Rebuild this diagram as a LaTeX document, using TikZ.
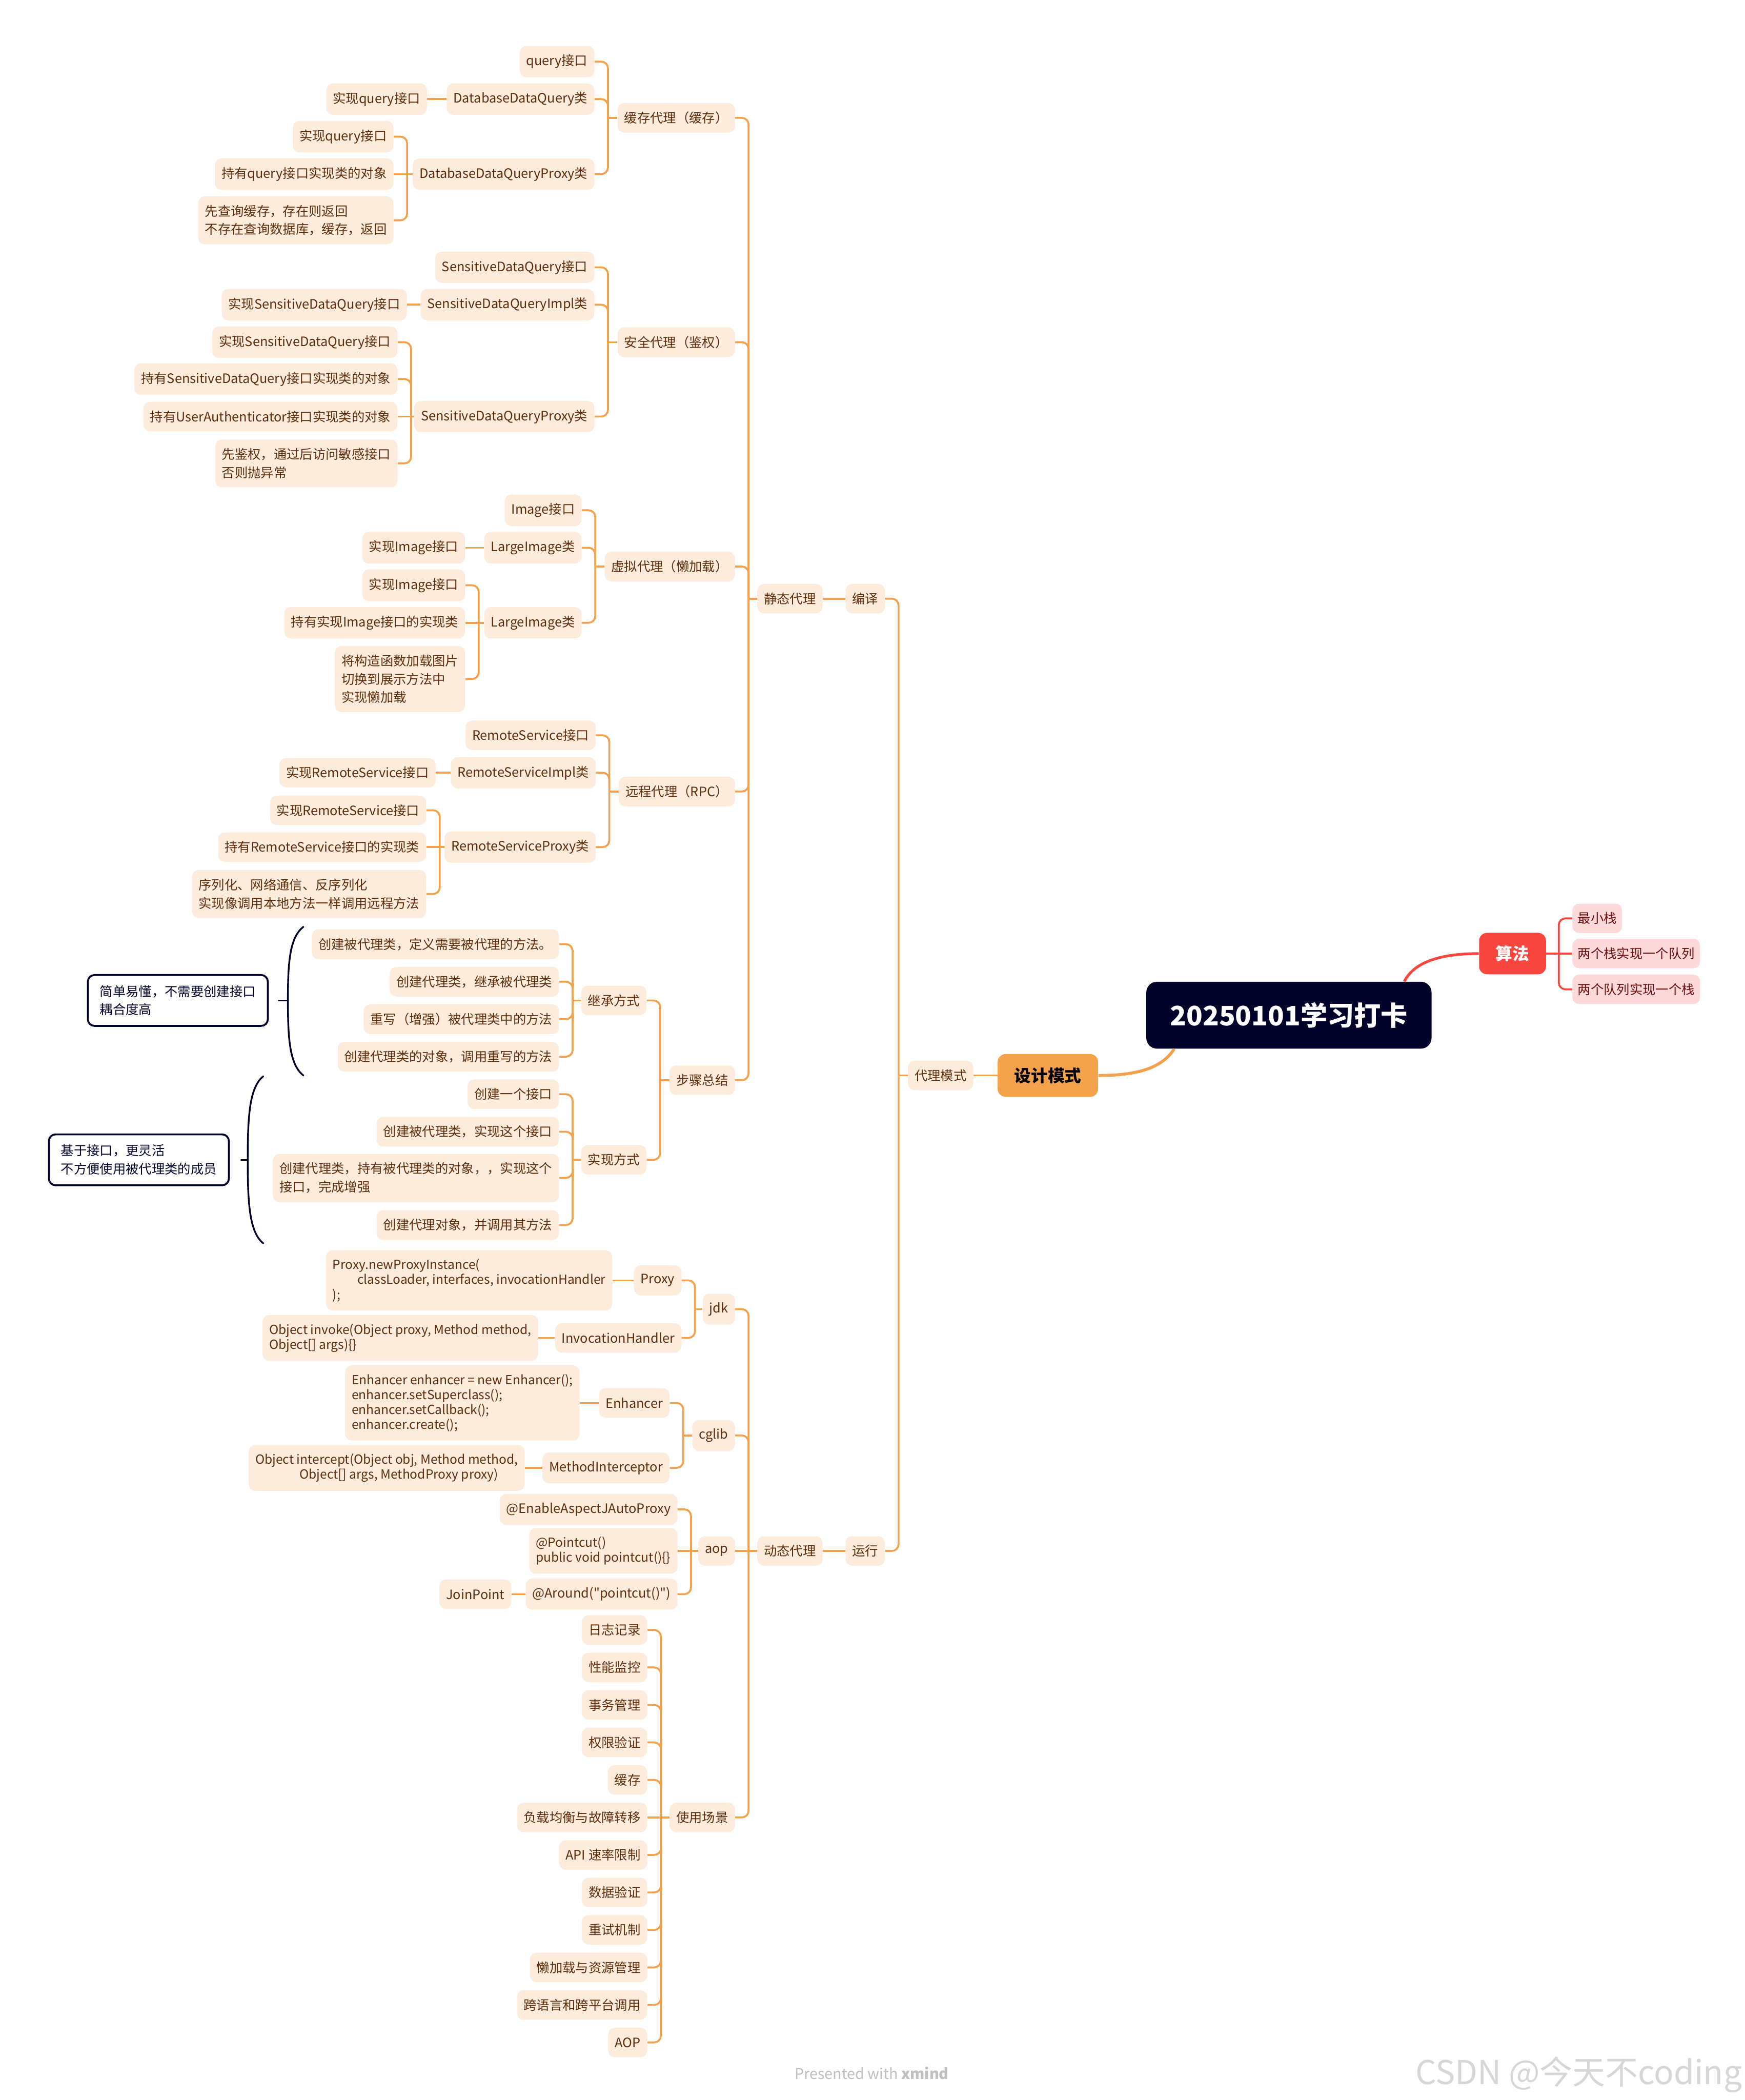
\documentclass[tikz,border=0pt]{standalone}
\usepackage{fontspec}
\setmainfont{Noto Sans CJK SC}[Ligatures=TeXOff]
\usetikzlibrary{calc}
\definecolor{lf}{HTML}{FDEBDC}
\definecolor{lt}{HTML}{5C2E0C}
\definecolor{ln}{HTML}{F5A14C}
\definecolor{navy}{HTML}{000229}
\definecolor{org}{HTML}{F5A24D}
\definecolor{redc}{HTML}{F9463F}
\definecolor{pinkf}{HTML}{FDD9D9}
\definecolor{pinkt}{HTML}{6B1010}
\tikzset{
  lv/.style={fill=lf, text=lt, rounded corners=5pt, inner xsep=5pt, inner ysep=6.5pt, minimum height=22pt, font=\fontsize{9.7}{13.7}\selectfont, align=left, anchor=east},
  code/.style={lv, font=\fontsize{9.4}{11.2}\selectfont},
  alg/.style={fill=pinkf, text=pinkt, rounded corners=5pt, inner xsep=4pt, inner ysep=6pt, minimum height=22pt, font=\fontsize{9.7}{13.7}\selectfont, anchor=west},
  sumbox/.style={draw=navy, line width=1.4pt, fill=white, text=navy, rounded corners=5pt, inner xsep=9pt, inner ysep=6pt, minimum height=38pt, font=\fontsize{9.7}{13.7}\selectfont, align=left, anchor=east},
  conn/.style={draw=ln, line width=1.4pt},
  rconn/.style={draw=redc, line width=1.4pt},
  bracel/.style={draw=navy, line width=1.3pt, line cap=round},
}
\newcommand\mmkid[2]{%
  \draw[conn] (#1.west) -- ($(#2.east |- #1.west)+(10,0)$);
  \draw[conn,rounded corners=5pt] ($(#2.east |- #1.west)+(10,0)$) |- (#2.east);}
\newcommand\mmone[2]{\draw[conn] (#1.west) -- (#2.east);}
\newcommand\mmrkid[2]{%
  \draw[rconn] (#1.east) -- ($(#2.west |- #1.east)+(-10,0)$);
  \draw[rconn,rounded corners=5pt] ($(#2.west |- #1.east)+(-10,0)$) |- (#2.west);}
\begin{document}
\begin{tikzpicture}[x=1pt,y=-1pt]
\fill[white] (0,0) rectangle (1303,1568);
\useasboundingbox (0,0) rectangle (1303,1568);

% ---------- root and main branches ----------
\node[fill=navy, text=white, rounded corners=8pt, minimum width=213pt, minimum height=50pt, font=\fontsize{20}{24}\selectfont\bfseries] (root) at (962.5,758) {20250101学习打卡};
\node[fill=org, text=black, rounded corners=6pt, minimum width=75pt, minimum height=32pt, font=\fontsize{12.5}{15}\selectfont\bfseries] (dm) at (782.5,803) {设计模式};
\node[fill=redc, text=white, rounded corners=6pt, minimum width=50pt, minimum height=31pt, font=\fontsize{12.5}{15}\selectfont\bfseries] (sf) at (1129.5,712) {算法};
\node[alg] (a1) at (1174,685.7) {最小栈};
\node[alg] (a2) at (1174,712) {两个栈实现一个队列};
\node[alg] (a3) at (1174,738.7) {两个队列实现一个栈};
\draw[rconn, line width=2pt] ([xshift=-20.5pt]root.north east) .. controls +(8,-16) and +(-25,0) .. (sf.west);
\draw[conn, line width=2.2pt] ([xshift=21pt]root.south west) .. controls +(-9,14) and +(30,0) .. (dm.east);
\mmrkid{sf}{a1}
\draw[rconn] (sf.east) -- (a2.west);
\mmrkid{sf}{a3}

% ---------- proxy pattern ----------
\node[lv] (dl) at (727,803) {代理模式};
\node[lv] (by) at (661,447) {编译};
\node[lv] (yx) at (661,1158) {运行};
\node[lv] (jt) at (614.5,447) {静态代理};
\node[lv] (dt) at (614.5,1158) {动态代理};
\draw[conn] (dl.east) -- (dm.west);
\mmkid{dl}{by}\mmkid{dl}{yx}
\mmone{by}{jt}\mmone{yx}{dt}

% ---------- static: cache ----------
\node[lv] (hc) at (549,88) {缓存代理（缓存）};
\node[lv] (hc1) at (444,46) {query接口};
\node[lv] (hc2) at (444,74) {DatabaseDataQuery类};
\node[lv] (hc2a) at (319,74) {实现query接口};
\node[lv] (hc3) at (444,130) {DatabaseDataQueryProxy类};
\node[lv] (hc3a) at (294,102) {实现query接口};
\node[lv] (hc3b) at (294,130) {持有query接口实现类的对象};
\node[lv] (hc3c) at (294,164.5) {先查询缓存，存在则返回\\不存在查询数据库，缓存，返回};
\mmkid{hc}{hc1}\mmkid{hc}{hc2}\mmkid{hc}{hc3}
\mmone{hc2}{hc2a}
\mmkid{hc3}{hc3a}\mmone{hc3}{hc3b}\mmkid{hc3}{hc3c}

% ---------- static: security ----------
\node[lv] (aq) at (549,255.5) {安全代理（鉴权）};
\node[lv] (aq1) at (444,199.6) {SensitiveDataQuery接口};
\node[lv] (aq2) at (444,227.5) {SensitiveDataQueryImpl类};
\node[lv] (aq2a) at (304,227.5) {实现SensitiveDataQuery接口};
\node[lv] (aq3) at (444,311) {SensitiveDataQueryProxy类};
\node[lv] (aq3a) at (297,255.5) {实现SensitiveDataQuery接口};
\node[lv] (aq3b) at (297,283) {持有SensitiveDataQuery接口实现类的对象};
\node[lv] (aq3c) at (297,311) {持有UserAuthenticator接口实现类的对象};
\node[lv] (aq3d) at (297,346) {先鉴权，通过后访问敏感接口\\否则抛异常};
\mmkid{aq}{aq1}\mmkid{aq}{aq2}\mmkid{aq}{aq3}
\mmone{aq2}{aq2a}
\mmkid{aq3}{aq3a}\mmkid{aq3}{aq3b}\mmone{aq3}{aq3c}\mmkid{aq3}{aq3d}

% ---------- static: virtual ----------
\node[lv] (xn) at (549,423) {虚拟代理（懒加载）};
\node[lv] (xn1) at (434.5,381) {Image接口};
\node[lv] (xn2) at (434.5,409) {LargeImage类};
\node[lv] (xn2a) at (347.5,409) {实现Image接口};
\node[lv] (xn3) at (434.5,465) {LargeImage类};
\node[lv] (xn3a) at (347.5,437) {实现Image接口};
\node[lv] (xn3b) at (347.5,465) {持有实现Image接口的实现类};
\node[lv] (xn3c) at (347.5,507) {将构造函数加载图片\\切换到展示方法中\\实现懒加载};
\mmkid{xn}{xn1}\mmkid{xn}{xn2}\mmkid{xn}{xn3}
\mmone{xn2}{xn2a}
\mmkid{xn3}{xn3a}\mmone{xn3}{xn3b}\mmkid{xn3}{xn3c}

% ---------- static: remote ----------
\node[lv] (yc) at (549,591) {远程代理（RPC）};
\node[lv] (yc1) at (445,549) {RemoteService接口};
\node[lv] (yc2) at (445,577) {RemoteServiceImpl类};
\node[lv] (yc2a) at (325.4,577) {实现RemoteService接口};
\node[lv] (yc3) at (445,632.5) {RemoteServiceProxy类};
\node[lv] (yc3a) at (318.4,605) {实现RemoteService接口};
\node[lv] (yc3b) at (318.4,632.5) {持有RemoteService接口的实现类};
\node[lv] (yc3c) at (318.4,667.5) {序列化、网络通信、反序列化\\实现像调用本地方法一样调用远程方法};
\mmkid{yc}{yc1}\mmkid{yc}{yc2}\mmkid{yc}{yc3}
\mmone{yc2}{yc2a}
\mmkid{yc3}{yc3a}\mmone{yc3}{yc3b}\mmkid{yc3}{yc3c}

% ---------- static: steps ----------
\node[lv] (bz) at (549,806.5) {步骤总结};
\node[lv] (bz1) at (483,747) {继承方式};
\node[lv] (bz2) at (483,866) {实现方式};
\node[lv] (bz1a) at (417.6,705) {创建被代理类，定义需要被代理的方法。};
\node[lv] (bz1b) at (417.6,733) {创建代理类，继承被代理类};
\node[lv] (bz1c) at (417.6,761) {重写（增强）被代理类中的方法};
\node[lv] (bz1d) at (417.6,789) {创建代理类的对象，调用重写的方法};
\node[lv] (bz2a) at (417.6,817) {创建一个接口};
\node[lv] (bz2b) at (417.6,845) {创建被代理类，实现这个接口};
\node[lv] (bz2c) at (417.6,879.5) {创建代理类，持有被代理类的对象，，实现这个\\接口，完成增强};
\node[lv] (bz2d) at (417.6,914.7) {创建代理对象，并调用其方法};
\mmkid{bz}{bz1}\mmkid{bz}{bz2}
\mmkid{bz1}{bz1a}\mmkid{bz1}{bz1b}\mmkid{bz1}{bz1c}\mmkid{bz1}{bz1d}
\mmkid{bz2}{bz2a}\mmkid{bz2}{bz2b}\mmkid{bz2}{bz2c}\mmkid{bz2}{bz2d}

\mmkid{jt}{hc}\mmkid{jt}{aq}\mmkid{jt}{xn}\mmkid{jt}{yc}\mmkid{jt}{bz}

% ---------- summaries ----------
\node[sumbox] (s1) at (200.7,747) {简单易懂，不需要创建接口\\耦合度高};
\node[sumbox] (s2) at (171.6,866) {基于接口，更灵活\\不方便使用被代理类的成员};
\draw[bracel] (226.6,692) .. controls (216,700) and (215,720) .. (215,747) .. controls (215,774) and (216,795) .. (226.6,803);
\draw[bracel] (215,747) -- ([xshift=7.6pt]s1.east);
\draw[bracel] (196.6,803.6) .. controls (186,812) and (185,835) .. (185,866) .. controls (185,897) and (186,920) .. (196.6,928.3);
\draw[bracel] (185,866) -- ([xshift=8.4pt]s2.east);

% ---------- dynamic ----------
\node[lv] (jdk) at (549,977.5) {jdk};
\node[lv] (cg) at (549,1071.8) {cglib};
\node[lv] (aop) at (549,1158) {aop};
\node[lv] (syc) at (549,1357) {使用场景};
\node[lv] (jdk1) at (509,956) {Proxy};
\node[code] (jdk1a) at (457.4,956) {Proxy.newProxyInstance(\\\hspace*{18.5pt}classLoader, interfaces, invocationHandler\\);};
\node[lv] (jdk2) at (509,999) {InvocationHandler};
\node[code] (jdk2a) at (402,999) {Object invoke(Object proxy, Method method,\\Object[] args)\{\}};
\node[lv] (cg1) at (500.2,1047.5) {Enhancer};
\node[code] (cg1a) at (433,1047.5) {Enhancer enhancer = new Enhancer();\\enhancer.setSuperclass();\\enhancer.setCallback();\\enhancer.create();};
\node[lv] (cg2) at (500.2,1096) {MethodInterceptor};
\node[code] (cg2a) at (392,1096) {Object intercept(Object obj, Method method,\\\hspace*{33pt}Object[] args, MethodProxy proxy)};
\node[lv] (aop1) at (506,1127) {@EnableAspectJAutoProxy};
\node[code] (aop2) at (506,1158) {@Pointcut()\\public void pointcut()\{\}};
\node[lv] (aop3) at (506,1190.3) {@Around("pointcut()")};
\node[lv] (aop3a) at (382,1190.3) {JoinPoint};
\mmkid{dt}{jdk}\mmkid{dt}{cg}\mmone{dt}{aop}\mmkid{dt}{syc}
\mmkid{jdk}{jdk1}\mmkid{jdk}{jdk2}\mmone{jdk1}{jdk1a}\mmone{jdk2}{jdk2a}
\mmkid{cg}{cg1}\mmkid{cg}{cg2}\mmone{cg1}{cg1a}\mmone{cg2}{cg2a}
\mmkid{aop}{aop1}\mmone{aop}{aop2}\mmkid{aop}{aop3}\mmone{aop3}{aop3a}

\node[lv] (u0) at (483.5,1217) {日志记录};
\node[lv] (u1) at (483.5,1245) {性能监控};
\node[lv] (u2) at (483.5,1273) {事务管理};
\node[lv] (u3) at (483.5,1301) {权限验证};
\node[lv] (u4) at (483.5,1329) {缓存};
\node[lv] (u5) at (483.5,1357) {负载均衡与故障转移};
\node[lv] (u6) at (483.5,1385) {API 速率限制};
\node[lv] (u7) at (483.5,1413) {数据验证};
\node[lv] (u8) at (483.5,1441) {重试机制};
\node[lv] (u9) at (483.5,1469) {懒加载与资源管理};
\node[lv] (u10) at (483.5,1497) {跨语言和跨平台调用};
\node[lv] (u11) at (483.5,1525) {AOP};
\mmkid{syc}{u0}\mmkid{syc}{u1}\mmkid{syc}{u2}\mmkid{syc}{u3}\mmkid{syc}{u4}
\mmone{syc}{u5}
\mmkid{syc}{u6}\mmkid{syc}{u7}\mmkid{syc}{u8}\mmkid{syc}{u9}\mmkid{syc}{u10}\mmkid{syc}{u11}

% ---------- footer ----------
\node[text=black!25, font=\fontsize{11}{13}\selectfont, inner sep=0] (foot) at (651,1548) {Presented with \textbf{xmind}};
\node[text=black!16, font=\fontsize{24.5}{28}\selectfont, anchor=east, inner sep=0] (wm) at (1301,1549) {CSDN @今天不coding};
\end{tikzpicture}
\end{document}
